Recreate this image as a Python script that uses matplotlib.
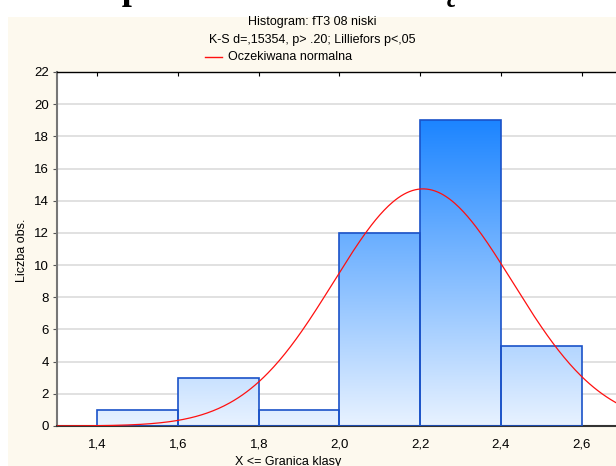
import matplotlib.pyplot as plt
import matplotlib.patches as mpatches
import numpy as np

plt.rcParams['font.family'] = ['Liberation Sans', 'DejaVu Sans']

# histogram data (class limits and counts)
bin_edges = [1.4, 1.6, 1.8, 2.0, 2.2, 2.4, 2.6]
counts = [1, 3, 1, 12, 19, 5]
n_obs = 41
mean_val = 2.207
sd_val = 0.222

x_ticks = [1.4, 1.6, 1.8, 2.0, 2.2, 2.4, 2.6]
x_ticklabels = ['1,4', '1,6', '1,8', '2,0', '2,2', '2,4', '2,6']
y_ticks = list(range(0, 23, 2))

W, H = 616, 466
fig = plt.figure(figsize=(W / 100, H / 100), dpi=100)
fig.patch.set_facecolor('white')

# cream panel behind the chart
fig.patches.append(mpatches.Rectangle((8 / W, 0), 1, 1 - 17 / H, transform=fig.transFigure,
                                      facecolor='#fdf9ee', edgecolor='none', zorder=-5))

# cut-off heading of the page above the panel
fig.text(-0.12, 1 + 1 / H, 'Normalność pomiarów fT3 w obrębie badanej grupy, pacjentów niskich',
         family='Liberation Serif', fontweight='bold', fontsize=26, va='baseline', ha='left', zorder=-6)

ax = fig.add_axes([57 / W, 1 - 426 / H, (622 - 57) / W, (426 - 72) / H])
ax.set_facecolor('white')
ax.set_xlim(1.3, 2.7)
ax.set_ylim(0, 22)

# shared vertical gradient, clipped to each bar
yy = np.linspace(22, 0, 256)
t = np.clip(yy / 19, 0, 1)[:, None]
c_bot = np.array([0.91, 0.95, 1.0])
c_top = np.array([0.11, 0.52, 1.0])
grad = (c_bot + (c_top - c_bot) * t).reshape(256, 1, 3)

for i, c in enumerate(counts):
    x0 = bin_edges[i]
    w = bin_edges[i + 1] - bin_edges[i]
    im = ax.imshow(grad, extent=[1.3, 2.7, 0, 22], aspect='auto', origin='upper', zorder=2)
    rect = mpatches.Rectangle((x0, 0), w, c, facecolor='none', edgecolor='#1a52c8', linewidth=1.2, zorder=3)
    ax.add_patch(rect)
    im.set_clip_path(rect)

# expected normal curve
xs = np.linspace(1.3, 2.7, 400)
ys = n_obs * 0.2 / (sd_val * np.sqrt(2 * np.pi)) * np.exp(-(xs - mean_val) ** 2 / (2 * sd_val ** 2))
ax.plot(xs, ys, color='#ff1010', linewidth=0.9, zorder=4)

ax.set_yticks(y_ticks)
ax.set_xticks(x_ticks)
ax.set_xticklabels(x_ticklabels)
ax.yaxis.grid(True, color='#dcdcdc', linewidth=1.2, zorder=0)
ax.set_axisbelow(True)
ax.tick_params(axis='y', length=3, direction='out', labelsize=9.5, pad=3, color='#555555')
ax.tick_params(axis='x', bottom=False, top=True, direction='in', length=3, labelsize=9.5, pad=9)
ax.xaxis.set_tick_params(labelbottom=True, labeltop=False)
ax.spines['right'].set_visible(False)
ax.spines['top'].set_color('black')
ax.spines['top'].set_linewidth(1.0)
ax.spines['left'].set_color('#777777')
ax.spines['left'].set_linewidth(1.5)
ax.spines['bottom'].set_color('#333333')
ax.spines['bottom'].set_linewidth(1.5)

# titles and legend
fig.text(312 / W, 1 - 22 / H, 'Histogram: fT3 08 niski', ha='center', va='center', fontsize=9)
fig.text(312 / W, 1 - 40 / H, 'K-S d=,15354, p> .20; Lilliefors p<,05', ha='center', va='center', fontsize=9)
fig.lines.append(plt.Line2D([205 / W, 222 / W], [1 - 57 / H, 1 - 57 / H], transform=fig.transFigure,
                            color='#ff1010', linewidth=1.0))
fig.text(228 / W, 1 - 57 / H, 'Oczekiwana normalna', ha='left', va='center', fontsize=9)

fig.text(22 / W, 1 - 250 / H, 'Liczba obs.', rotation=90, ha='center', va='center', fontsize=9)
fig.text(288 / W, 1 - 462 / H, 'X <= Granica klasy', ha='center', va='center', fontsize=9)

fig.savefig('out.png', dpi=100)
